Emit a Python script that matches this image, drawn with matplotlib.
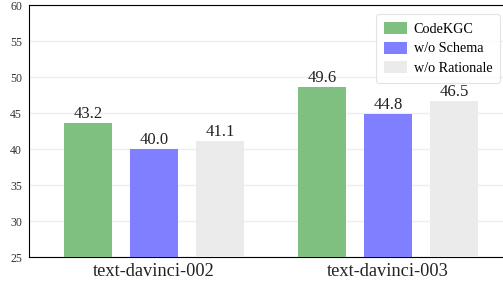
import numpy as np
import matplotlib
matplotlib.use("Agg")
import matplotlib.pyplot as plt

plt.rcParams["font.family"] = ["Liberation Serif", "DejaVu Serif"]

# ==== Daten ====
models = ["text-davinci-002", "text-davinci-003"]
series = ["CodeKGC", "w/o Schema", "w/o Rationale"]
# Balkenhoehen
codekgc = [43.6, 48.6]
wo_schema = [40.0, 44.8]
wo_rationale = [41.1, 46.6]
# beschriftete Werte
codekgc_lbl = ["43.2", "49.6"]
wo_schema_lbl = ["40.0", "44.8"]
wo_rationale_lbl = ["41.1", "46.5"]
colors = ["#7fbf7f", "#7f7fff", "#ebebeb"]

# ==== Plot ====
fig = plt.figure(figsize=(5.03, 2.87), dpi=100)
ax = fig.add_axes([29 / 503, 30 / 287, 474 / 503, 252 / 287])

x = np.arange(len(models))
offset = 0.282
width = 0.205
for i, (vals, lbls, name) in enumerate(zip([codekgc, wo_schema, wo_rationale],
                                          [codekgc_lbl, wo_schema_lbl, wo_rationale_lbl],
                                          series)):
    bars = ax.bar(x + (i - 1) * offset, vals, width, color=colors[i], label=name, zorder=3)
    for b, t in zip(bars, lbls):
        ax.text(b.get_x() + b.get_width() / 2, b.get_height() + 0.15, t,
                ha="center", va="bottom", fontsize=12, color="#222222")

ax.set_ylim(25, 60)
ax.set_xlim(-0.534, 1.491)
ax.set_yticks(range(25, 61, 5))
ax.set_xticks(x)
ax.set_xticklabels(models, fontsize=13.2, color="#222222")
ax.tick_params(axis="y", length=0, labelsize=8.5, pad=5, labelcolor="#333333")
ax.tick_params(axis="x", length=0, pad=4)
ax.grid(axis="y", color="#eeeeee", linewidth=1, zorder=0)
for s in ["left", "top", "bottom"]:
    ax.spines[s].set_color("black")
ax.spines["right"].set_visible(False)

leg = ax.legend(loc="upper right", fontsize=10.2, frameon=True, fancybox=True,
                edgecolor="#dddddd", handlelength=1.6, handleheight=0.95,
                handletextpad=0.5, borderpad=0.55, labelspacing=0.4,
                borderaxespad=0, bbox_to_anchor=(0.994, 0.964))
leg.get_frame().set_linewidth(0.8)

plt.savefig("out.png", dpi=100)
